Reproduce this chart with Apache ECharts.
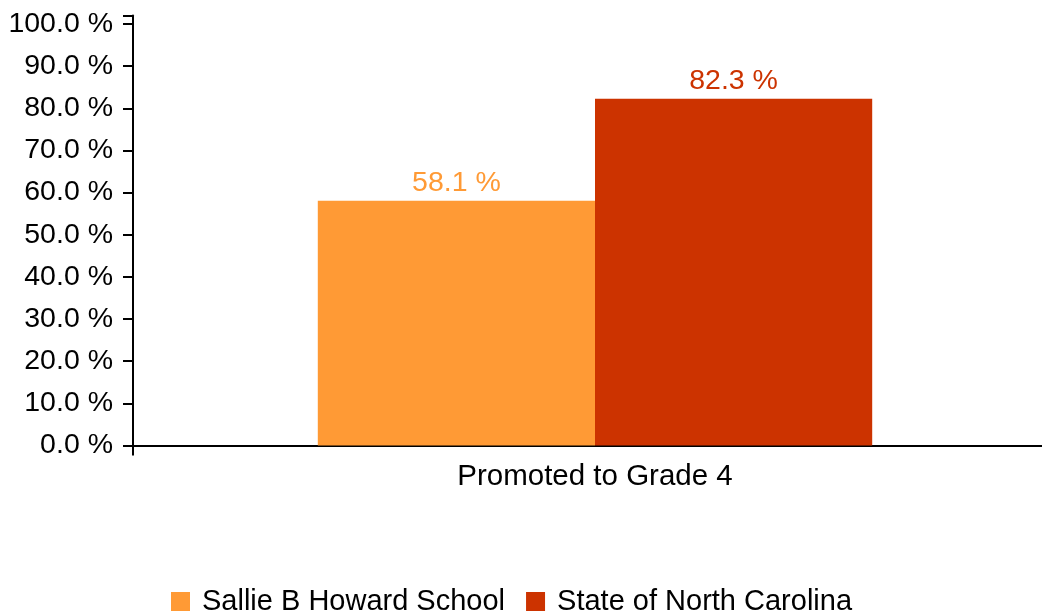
<!DOCTYPE html>
<html>
<head>
<meta charset="utf-8">
<script src="https://cdn.jsdelivr.net/npm/echarts@6/dist/echarts.min.js"></script>
<style>html,body{margin:0;padding:0;background:#fff}#c{width:1042px;height:616px}</style>
</head>
<body>
<div id="c"></div>
<script>
const categories = ['Promoted to Grade 4'];
const seriesNames = ['Sallie B Howard School', 'State of North Carolina'];
const schoolValues = [58.1];
const stateValues = [82.3];
const colors = ['#FF9A35', '#CC3300'];

const font = '"Liberation Sans", Arial, sans-serif';
const chart = echarts.init(document.getElementById('c'));
const fsNum = 28.5;
const fsText = 29.5;
chart.setOption({
  animation: false,
  textStyle: { fontFamily: font },
  legend: {
    left: 166, bottom: -5,
    itemWidth: 19, itemHeight: 19, itemGap: 21,
    icon: 'rect',
    textStyle: { fontSize: 29, color: '#000', fontFamily: font, padding: [0, 0, 0, 7] },
    data: seriesNames
  },
  grid: { left: 133, top: 15.6, width: 924, height: 429.9, outerBoundsMode: 'none', containLabel: false },
  xAxis: {
    type: 'category',
    data: categories,
    axisLine: { lineStyle: { color: '#000', width: 2 } },
    axisTick: { show: true, length: 10, lineStyle: { color: '#000', width: 2 } },
    axisLabel: { fontSize: fsText, color: '#000', margin: 16, fontFamily: font }
  },
  yAxis: {
    type: 'value', min: 0, max: 102, interval: 10,
    splitLine: { show: false },
    axisLine: { show: true, lineStyle: { color: '#000', width: 2 } },
    axisTick: { show: true, length: 10, lineStyle: { color: '#000', width: 2 } },
    axisLabel: {
      fontSize: fsNum, color: '#000', margin: 20, fontFamily: font,
      formatter: v => (v % 10 === 0 ? v.toFixed(1) + ' %' : '')
    }
  },
  series: [
    {
      name: seriesNames[0], type: 'bar', data: schoolValues,
      barGap: '0%', barCategoryGap: '40%',
      itemStyle: { color: colors[0] },
      label: { show: true, position: 'top', distance: 3, color: colors[0], fontSize: fsNum, fontFamily: font,
        formatter: p => p.value.toFixed(1) + ' %' }
    },
    {
      name: seriesNames[1], type: 'bar', data: stateValues,
      barGap: '0%', barCategoryGap: '40%',
      itemStyle: { color: colors[1] },
      label: { show: true, position: 'top', distance: 3, color: colors[1], fontSize: fsNum, fontFamily: font,
        formatter: p => p.value.toFixed(1) + ' %' }
    }
  ]
});
</script>
</body>
</html>
